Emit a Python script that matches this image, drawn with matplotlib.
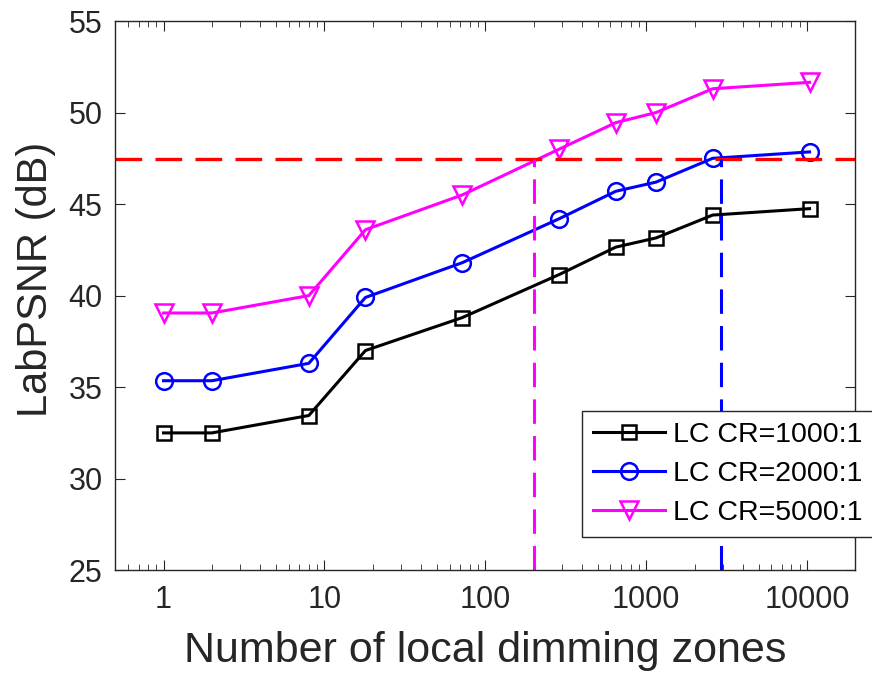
import numpy as np
import matplotlib
matplotlib.use("Agg")
import matplotlib.pyplot as plt
from matplotlib.ticker import LogLocator, FixedLocator, NullFormatter

plt.rcParams['font.family'] = ['Liberation Sans', 'DejaVu Sans']

zones = [1, 2, 8, 18, 72, 288, 648, 1152, 2592, 10368]
cr1000 = [32.5, 32.5, 33.45, 37.0, 38.8, 41.15, 42.65, 43.15, 44.4, 44.75]
cr2000 = [35.35, 35.35, 36.3, 39.9, 41.8, 44.2, 45.7, 46.2, 47.5, 47.85]
cr5000 = [39.05, 39.05, 40.0, 43.6, 45.5, 48.0, 49.45, 50.0, 51.3, 51.65]
labels = ['LC CR=1000:1', 'LC CR=2000:1', 'LC CR=5000:1']
target = 47.45
cross_5000 = 200
cross_2000 = 2900

fig = plt.figure(figsize=(8.72, 6.78), dpi=100)
ax = fig.add_axes([0.132, 0.159, 0.849, 0.810])

ax.plot(zones, cr1000, color='k', marker='s', markersize=10, mfc='none', mew=1.8, lw=2.2, label=labels[0])
ax.plot(zones, cr2000, color='#0000ff', marker='o', markersize=12, mfc='none', mew=1.8, lw=2.2, label=labels[1])
ax.plot(zones, cr5000, color='#ff00ff', marker='v', markersize=13, mfc='none', mew=1.8, lw=2.2, label=labels[2])

ax.axhline(target, color='#ff0000', lw=2.4, dashes=(8, 4))
ax.plot([cross_5000, cross_5000], [25, target], color='#ff00ff', lw=2.2, dashes=(8, 4))
ax.plot([cross_2000, cross_2000], [25, target], color='#0000ff', lw=2.2, dashes=(8, 4))

ax.set_xscale('log')
ax.set_xlim(0.5, 20000)
ax.set_ylim(25, 55)
ax.xaxis.set_major_locator(FixedLocator([1, 10, 100, 1000, 10000]))
ax.set_xticklabels(['1', '10', '100', '1000', '10000'])
ax.xaxis.set_minor_locator(LogLocator(base=10, subs=np.arange(2, 10)))
ax.xaxis.set_minor_formatter(NullFormatter())
ax.set_yticks([25, 30, 35, 40, 45, 50, 55])

for s in ax.spines.values():
    s.set_color('#262626')
    s.set_linewidth(1.0)
ax.tick_params(which='both', direction='in', top=True, right=True, colors='#262626', labelsize=22)
ax.tick_params(axis='y', pad=9)
ax.tick_params(axis='x', pad=11)
ax.tick_params(which='major', length=7)
ax.tick_params(which='minor', length=4)

ax.set_xlabel('Number of local dimming zones', fontsize=31, color='#262626', labelpad=11)
ax.set_ylabel('LabPSNR (dB)', fontsize=30, color='#262626')
ax.yaxis.set_label_coords(-0.08, 0.53)

leg = ax.legend(loc='upper left', bbox_to_anchor=(582 / 872, 1 - 411 / 678), bbox_transform=fig.transFigure,
                fontsize=20.5, fancybox=False, framealpha=1, edgecolor='#262626',
                handlelength=2.5, handletextpad=0.3, borderpad=0.4, labelspacing=0.45,
                borderaxespad=0)
leg.get_frame().set_linewidth(1.0)

fig.savefig('out.png', dpi=100)
